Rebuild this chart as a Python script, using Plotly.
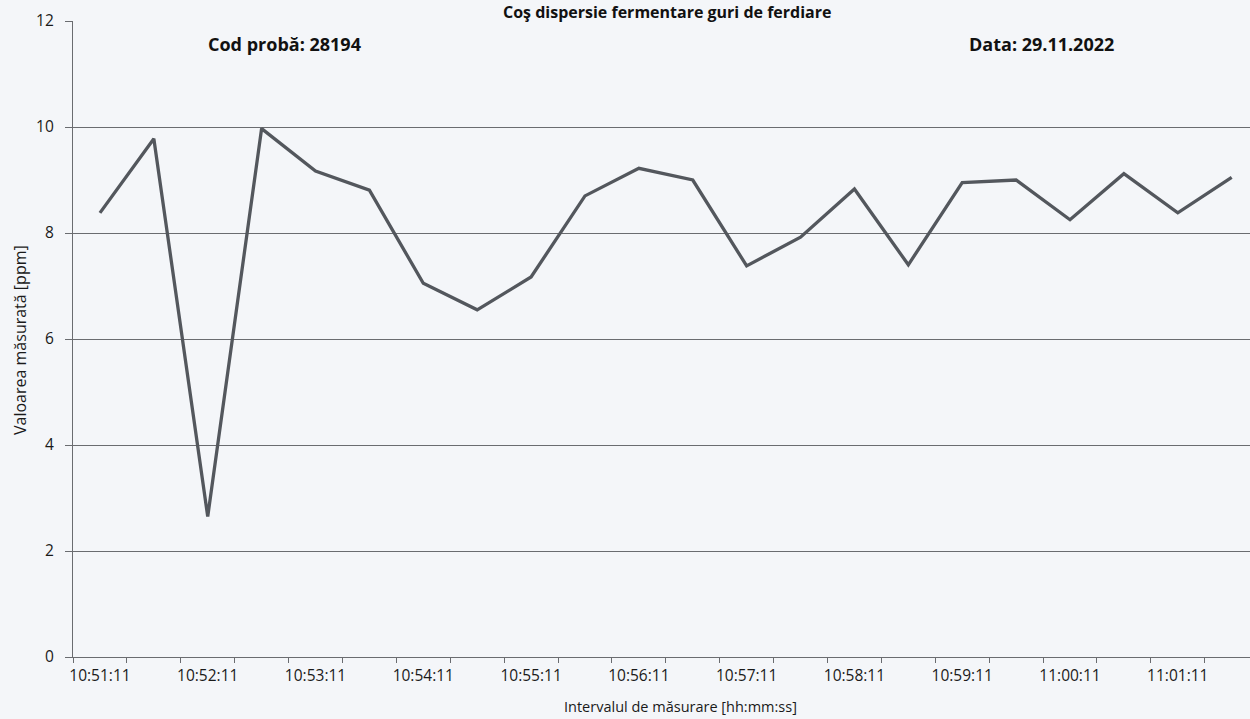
import plotly.graph_objects as go

# ---- data ----
times = ["10:51:11", "10:51:41", "10:52:11", "10:52:41", "10:53:11", "10:53:41",
         "10:54:11", "10:54:41", "10:55:11", "10:55:41", "10:56:11", "10:56:41",
         "10:57:11", "10:57:41", "10:58:11", "10:58:41", "10:59:11", "10:59:41",
         "11:00:11", "11:00:41", "11:01:11", "11:01:41"]
values = [8.38, 9.78, 2.65, 9.97, 9.17, 8.81, 7.05, 6.55, 7.17, 8.70, 9.22,
          9.00, 7.38, 7.92, 8.83, 7.40, 8.95, 9.00, 8.25, 9.12, 8.38, 9.05]
tick_text = [t if i % 2 == 0 else "" for i, t in enumerate(times)]
y_ticks = [0, 2, 4, 6, 8, 10, 12]

title_text = "Coş dispersie fermentare guri de ferdiare"
code_text = "Cod probă: 28194"
date_text = "Data: 29.11.2022"
x_title = "Intervalul de măsurare [hh:mm:ss]"
y_title = "Valoarea măsurată [ppm]"

W, H = 1250, 719
ML, MR, MT, MB = 73, 0, 21, 62
PW, PH = W - ML - MR, H - MT - MB
BG = "#f4f6f9"
GRID = "#6a6c70"
FONT = "Open Sans"

fig = go.Figure()
fig.add_trace(go.Scatter(
    x=times, y=values, mode="lines",
    line=dict(color="#53575d", width=3.3),
    showlegend=False, hoverinfo="x+y",
))

fig.update_layout(
    width=W, height=H,
    margin=dict(l=ML, r=MR, t=MT, b=MB, autoexpand=False),
    paper_bgcolor=BG, plot_bgcolor=BG,
    font=dict(family=FONT, color="#1a1a1a", size=15),
    xaxis=dict(
        type="category", automargin=False,
        categoryorder="array", categoryarray=times,
        tickmode="array", tickvals=times, ticktext=tick_text,
        tickson="boundaries", tickangle=0,
        range=[-0.5, 21.34],
        ticks="outside", ticklen=5, tickcolor=GRID, tickwidth=1,
        showline=True, linecolor=GRID, linewidth=1.3,
        showgrid=False, zeroline=False,
        tickfont=dict(size=15.5, family=FONT, color="#1a1a1a"),
        ticklabelstandoff=4,
    ),
    yaxis=dict(
        range=[0, 12], automargin=False,
        tickmode="array", tickvals=y_ticks,
        ticks="outside", ticklen=7, tickcolor=GRID, tickwidth=1,
        showline=True, linecolor=GRID, linewidth=1.3,
        showgrid=True, gridcolor=GRID, gridwidth=1.3,
        zeroline=False,
        tickfont=dict(size=15.5, family=FONT, color="#1a1a1a"),
        ticklabelstandoff=8,
    ),
    annotations=[
        dict(text="<b>" + title_text + "</b>", xref="paper", yref="paper",
             x=(667 - ML) / PW, y=1 + (MT - 11.5) / PH,
             xanchor="center", yanchor="middle", showarrow=False,
             font=dict(size=16, family=FONT, color="#111111")),
        dict(text="<b>" + code_text + "</b>", xref="paper", yref="paper",
             x=(206 - ML) / PW, y=1 - (44 - MT) / PH,
             xanchor="left", yanchor="middle", showarrow=False,
             font=dict(size=18, family=FONT, color="#111111")),
        dict(text="<b>" + date_text + "</b>", xref="paper", yref="paper",
             x=(967 - ML) / PW, y=1 - (44 - MT) / PH,
             xanchor="left", yanchor="middle", showarrow=False,
             font=dict(size=18, family=FONT, color="#111111")),
        dict(text=x_title, xref="paper", yref="paper",
             x=(680 - ML) / PW, y=-(706 - (H - MB)) / PH,
             xanchor="center", yanchor="middle", showarrow=False,
             font=dict(size=14.5, family=FONT, color="#1a1a1a")),
        dict(text=y_title, xref="paper", yref="paper", textangle=-90,
             x=-(ML - 20) / PW, y=(H - MB - 340) / PH,
             xanchor="center", yanchor="middle", showarrow=False,
             font=dict(size=16, family=FONT, color="#1a1a1a")),
    ],
)

fig.write_html(
    "out.html",
    config={"displayModeBar": False},
    post_script="document.body.style.margin='0';document.body.style.background='%s';" % BG,
)
